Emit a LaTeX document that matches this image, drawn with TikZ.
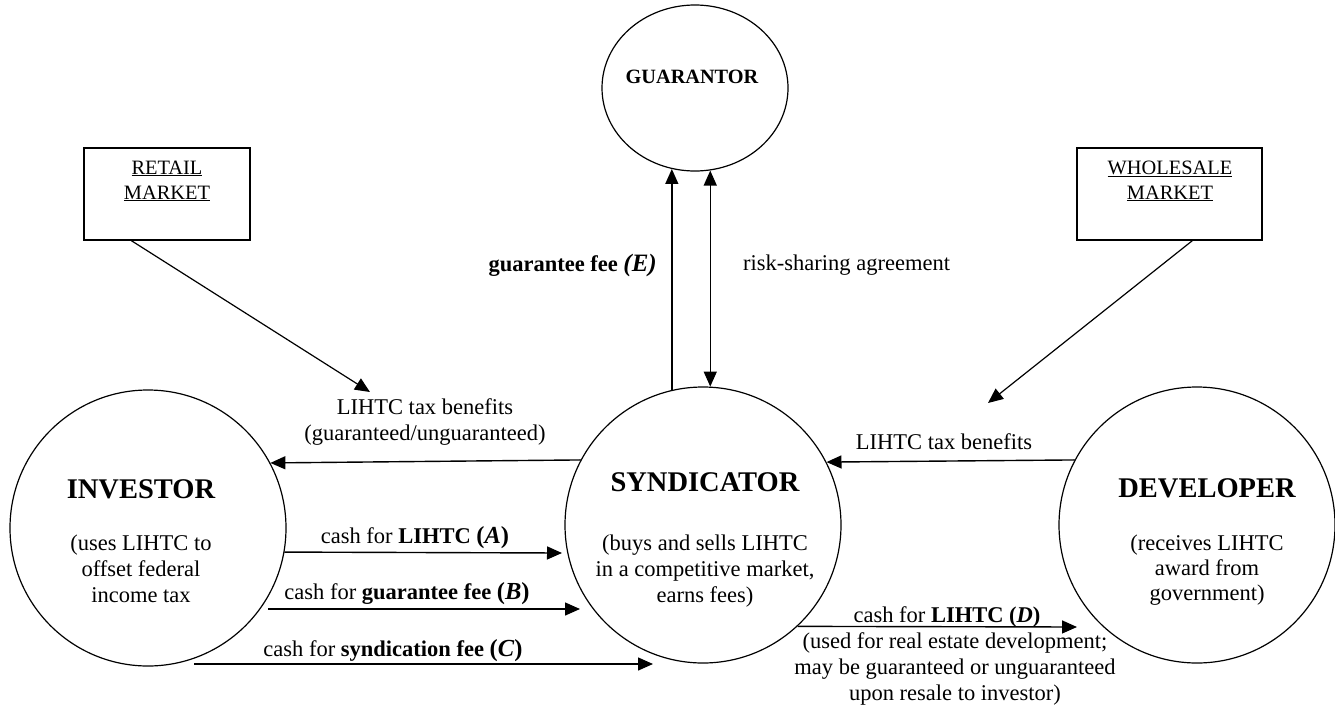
\documentclass[tikz,border=0pt]{standalone}
\usepackage{fontspec}
\setmainfont{Liberation Serif}
\usetikzlibrary{arrows.meta,shapes.geometric,calc}
\begin{document}
\begin{tikzpicture}[x=1pt,y=-1pt,
  party/.style={circle,draw,line width=1.2pt,minimum size=276pt,inner sep=0pt},
  mkt/.style={draw,line width=1.3pt,rectangle,inner sep=0pt,minimum height=92pt},
  arr/.style={-{Triangle[length=15pt,width=13pt]},line width=1.4pt},
  dbl/.style={{Triangle[length=15pt,width=13pt]}-{Triangle[length=15pt,width=13pt]},line width=1.4pt},
  lbl/.style={font=\fontsize{22.5}{25.5}\selectfont,align=center,inner sep=0pt},
  mktxt/.style={font=\fontsize{20.4}{25}\selectfont,align=center,inner sep=0pt},
  title/.style={font=\fontsize{28.5}{30}\selectfont\bfseries,inner sep=0pt},
]
\useasboundingbox (0,0) rectangle (1335,712);

% parties
\node[party] (inv) at (148,528) {};
\node[party] (syn) at (703,525) {};
\node[party] (dev) at (1197,525) {};
\node[ellipse,draw,line width=1.2pt,minimum width=186pt,minimum height=166pt,inner sep=0pt] (gar) at (695,88) {};

% markets
\node[mkt,minimum width=166pt] (ret) at (167,194) {};
\node[mkt,minimum width=185pt] (whl) at (1169.5,194) {};
\node[mktxt] (retT) at (167,181) {\underline{RETAIL}\\\underline{MARKET}};
\node[mktxt] (whlT) at (1170,181) {\underline{WHOLESALE}\\\underline{MARKET}};

% titles
\node[title] (invT) at (141,489) {INVESTOR};
\node[lbl,font=\fontsize{22.5}{26}\selectfont] (invS) at (141,569) {(uses LIHTC to\\offset federal\\income tax};
\node[title] (synT) at (705,482) {SYNDICATOR};
\node[lbl,font=\fontsize{22.5}{26}\selectfont] (synS) at (705,571) {(buys and sells LIHTC\\in a competitive market,\\earns fees)};
\node[title] (devT) at (1207,488) {DEVELOPER};
\node[lbl,font=\fontsize{22.5}{25}\selectfont] (devS) at (1207,570) {(receives LIHTC\\award from\\government)};
\node[inner sep=0pt,font=\fontsize{20.3}{22}\selectfont\bfseries] (garT) at (692,77) {GUARANTOR};

% market arrows
\coordinate (retTip) at (370,392);
\coordinate (whlTip) at (988,403);
\draw[arr,line width=1.2pt] ([xshift=48pt]ret.south west) -- (retTip);
\draw[arr,line width=1.2pt] ([xshift=116pt]whl.south west) -- (whlTip);

% tax benefit arrows
\draw[arr] (syn.152.8) -- (inv.28.6);
\draw[arr] (dev.152.8) -- (syn.27.2);
\node[lbl] (lblInv) at (425,422) {LIHTC tax benefits\\(guaranteed/unguaranteed)};
\node[lbl] (lblDev) at (944,442) {LIHTC tax benefits};

% cash arrows
\coordinate (aEnd) at (562,553);
\coordinate (bStart) at (268,609);
\coordinate (bEnd) at (580,609);
\coordinate (cStart) at (194,664);
\coordinate (cEnd) at (653,664);
\coordinate (dEnd) at (1077,627);
\draw[arr] (inv.-10.4) -- (aEnd);
\draw[arr] (bStart) -- (bEnd);
\draw[arr] (cStart) -- (cEnd);
\draw[arr] (syn.-47.6) -- (dEnd);
\node[lbl] (lblA) at (415,538) {cash for \textbf{LIHTC {\fontsize{24.5}{25}\selectfont(\textit{A})}}};
\node[lbl] (lblB) at (407,594) {cash for \textbf{guarantee fee {\fontsize{24.5}{25}\selectfont(\textit{B})}}};
\node[lbl] (lblC) at (393,651) {cash for \textbf{syndication fee {\fontsize{24.5}{25}\selectfont(\textit{C})}}};
\node[lbl] (lblD) at (947,617) {cash for \textbf{LIHTC (\textit{D})}};
\node[lbl,font=\fontsize{22.5}{26}\selectfont] (lblD2) at (955,669) {(used for real estate development;\\may be guaranteed or unguaranteed\\upon resale to investor)};

% guarantor arrows
\draw[arr] (syn.103) -- (syn.103 |- gar.-106);
\draw[dbl] (syn.87.3) -- (syn.87.3 |- gar.-80);
\node[lbl,anchor=east] (lblE) at (657,265) {\textbf{guarantee fee {\fontsize{25}{25}\selectfont\textit{(E)}}}};
\node[lbl,anchor=west] (lblR) at (743,265) {risk-sharing agreement};
\end{tikzpicture}
\end{document}
